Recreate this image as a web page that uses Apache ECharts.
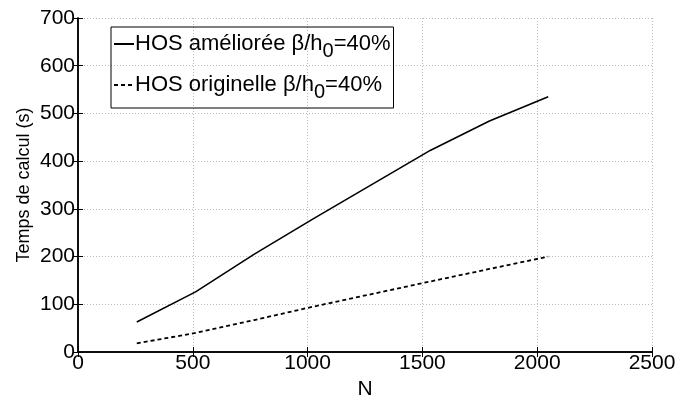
<!DOCTYPE html>
<html><head><meta charset="utf-8">
<script src="https://cdn.jsdelivr.net/npm/echarts@6/dist/echarts.min.js"></script>
<style>html,body{margin:0;padding:0;background:#fff}#c{width:676px;height:398px}</style>
</head><body><div id="c"></div>
<script>
const N = [256, 512, 768, 1024, 1536, 1792, 2048];
const improved = [63, 126, 205, 279, 423, 484, 535];
const original = [18, 40, 67, 95, 148, 174, 200];
const xTicks = [0, 500, 1000, 1500, 2000, 2500];
const yTicks = [0, 100, 200, 300, 400, 500, 600, 700];
const names = ['HOS améliorée', 'HOS originelle'];
const F = '"Liberation Sans", Arial, Helvetica, sans-serif';
const chart = echarts.init(document.getElementById('c'));
const axBase = {
  type: 'value', axisLine: {show: true, lineStyle: {color: '#000', width: 1.5}},
  axisTick: {show: true, inside: true, length: 5, lineStyle: {color: '#000'}},
};
chart.setOption({
  animation: false,
  grid: {left: 78, right: 24, top: 18, bottom: 46, outerBoundsMode: 'none', containLabel: false},
  legend: {
    show: true, left: 111, top: 27, orient: 'vertical', itemWidth: 20, itemHeight: 10, itemGap: 13,
    borderColor: '#000', borderWidth: 1, padding: [6, 3, 6, 2],
    data: names,
    itemStyle: {color: 'rgba(0,0,0,0)', borderColor: 'rgba(0,0,0,0)', borderWidth: 0},
    formatter: n => n + ' β/h{s|0}=40%',
    textStyle: {fontFamily: F, fontSize: 22, color: '#000', padding: [0, 0, 0, -4],
      rich: {s: {fontFamily: F, fontSize: 20, color: '#000', padding: [14, 0, 0, 0]}}}
  },
  xAxis: [
    Object.assign({}, axBase, {min: 0, max: 2500, interval: 500, name: 'N', nameLocation: 'middle', nameGap: 20,
      nameTextStyle: {fontFamily: F, fontSize: 21, color: '#000'},
      axisLabel: {fontFamily: F, fontSize: 21, color: '#000', margin: 1, formatter: v => String(v)},
      splitLine: {show: true, lineStyle: {color: '#bbb', type: [1, 2]}}}),
    Object.assign({}, axBase, {min: 0, max: 2500, interval: 500, position: 'top', axisLabel: {show: false}, splitLine: {show: false}})
  ],
  yAxis: [
    Object.assign({}, axBase, {min: 0, max: 700, interval: 100, name: 'Temps de calcul (s)', nameLocation: 'middle', nameGap: 45,
      nameMoveOverlap: false,
      nameTextStyle: {fontFamily: F, fontSize: 18, color: '#000'},
      axisLabel: {fontFamily: F, fontSize: 21, color: '#000', margin: 3},
      splitLine: {show: true, lineStyle: {color: '#bbb', type: [1, 2]}}}),
    Object.assign({}, axBase, {min: 0, max: 700, interval: 100, position: 'right', axisLabel: {show: false}, splitLine: {show: false}})
  ],
  series: [
    {name: names[0], type: 'line', data: N.map((n, i) => [n, improved[i]]), symbol: 'none',
      lineStyle: {color: '#000', width: 1.6}, itemStyle: {color: '#000'}},
    {name: names[1], type: 'line', data: N.map((n, i) => [n, original[i]]), symbol: 'none',
      lineStyle: {color: '#000', width: 1.8, type: [4, 3]}, itemStyle: {color: '#000'}}
  ]
});
</script></body></html>
